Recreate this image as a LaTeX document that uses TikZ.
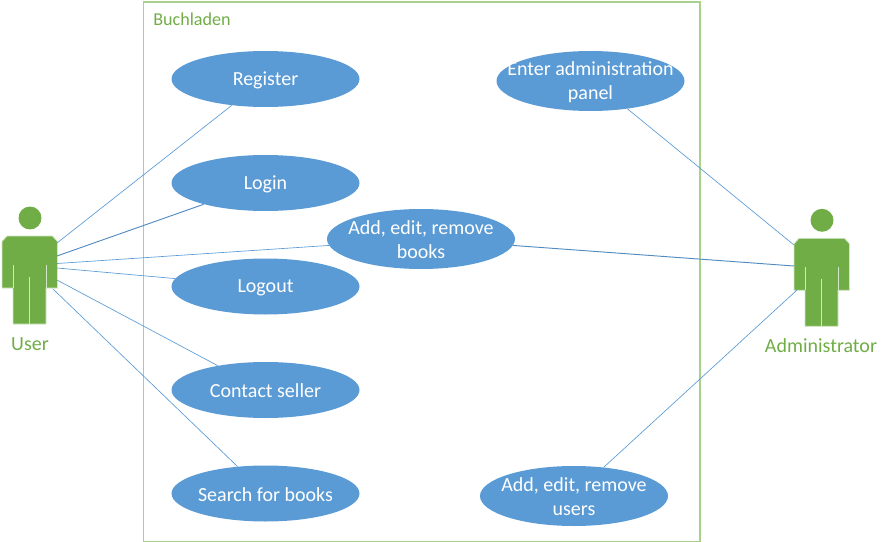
\documentclass[tikz,border=0pt]{standalone}
\usepackage{fontspec}
\setmainfont{Carlito}
\usetikzlibrary{shapes.geometric}
\definecolor{ublue}{HTML}{5B9BD5}
\definecolor{ugreen}{HTML}{70AD47}
\definecolor{frameg}{HTML}{A9D18E}
\definecolor{edgeg}{HTML}{D3E6C6}
\tikzset{
  x=0.75pt,y=-0.75pt,
  usecasebase/.style={ellipse,fill=ublue,draw=none,inner sep=0pt,minimum width=141pt,
    label={[text=white,font=\fontsize{15}{18}\selectfont,align=center,inner sep=0pt,yshift=-0.75pt]center:#1}},
  usecase/.style={usecasebase={#1},minimum height=42pt},
  usecasetall/.style={usecasebase={#1},minimum height=45pt},
  link/.style={draw=ublue,line width=0.5pt},
  linkstrong/.style={draw=ublue!90!black,line width=0.7pt},
  actorlabel/.style={text=ugreen,font=\fontsize{15}{18}\selectfont,inner sep=0pt},
  actorbody/.style={fill=ugreen,draw=edgeg,line width=0.6pt},
  actorline/.style={draw=edgeg,line width=0.75pt},
  actor/.pic={
    \fill[ugreen] (30,218) circle[radius=8.6pt];
    \path[actorbody] (7,236) -- (52.5,236) -- (57.5,241.5) -- (57.5,288) -- (46,288) -- (46,324)
      -- (13,324) -- (13,288) -- (2,288) -- (2,241.5) -- cycle;
    \draw[actorline] (13,265) -- (13,288);
    \draw[actorline] (46,265) -- (46,288);
    \draw[actorline] (29.7,277) -- (29.7,324);
  }
}
\begin{document}
\begin{tikzpicture}
\useasboundingbox (0,0) rectangle (889,542);
\node[draw=frameg,line width=1.1pt,minimum width=417.45pt,minimum height=404.6pt,inner sep=0pt,anchor=north west] (system) at (142.7,1.5) {};
\node[text=ugreen,font=\fontsize{13.6}{16}\selectfont,anchor=west,inner sep=0pt] (title) at (153,19) {Buchladen};

\node[usecase=Register] (register) at (265.5,79) {};
\node[usecase=Login] (login) at (265.5,183) {};
\node[usecase=Logout] (logout) at (265.5,286.5) {};
\node[usecase=Contact seller] (contact) at (265.5,390) {};
\node[usecase=Search for books] (search) at (265.5,493.5) {};
\node[usecasetall={Add, edit, remove\\books}] (books) at (421,239) {};
\node[usecasetall={Enter administration\\panel}] (admin) at (590.5,81) {};
\node[usecasetall={Add, edit, remove\\users}] (users) at (574,496) {};

\pic at (0,0) {actor};
\pic at (792,2.3) {actor};
\node[actorlabel] (userlabel) at (30,344) {User};
\node[actorlabel] (adminlabel) at (821,345.5) {Administrator};

\coordinate (u1) at (57,243);
\coordinate (u2) at (57,256);
\coordinate (u3) at (57,263.5);
\coordinate (u4) at (57,268);
\coordinate (u5) at (57,280);
\coordinate (u6) at (53,289);
\coordinate (a1) at (794,245);
\coordinate (a2) at (794,266);
\coordinate (a3) at (797,290);

\draw[link] (u1) -- (register.218);
\draw[linkstrong] (u2) -- (login.199);
\draw[link] (u3) -- (books.184);
\draw[link] (u4) -- (logout.175);
\draw[link] (u5) -- (contact.153);
\draw[link] (u6) -- (search.136);
\draw[link] (a1) -- (admin.323);
\draw[linkstrong] (a2) -- (books.356);
\draw[link] (a3) -- (users.44);
\end{tikzpicture}
\end{document}
